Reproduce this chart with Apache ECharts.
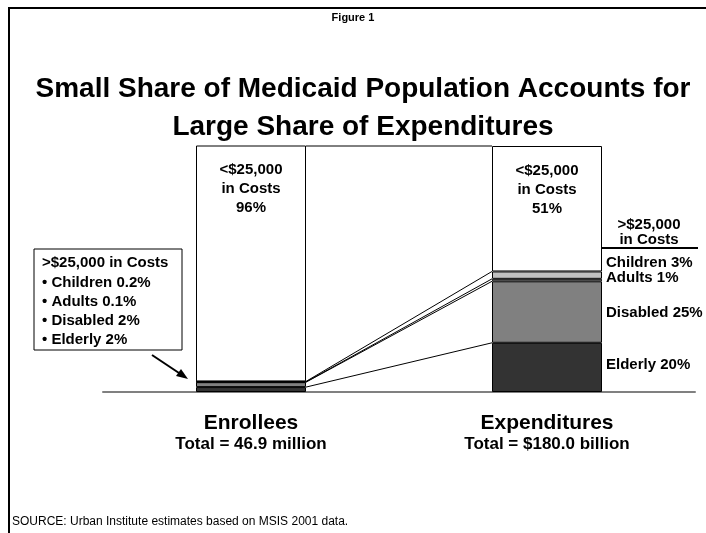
<!DOCTYPE html>
<html>
<head>
<meta charset="utf-8">
<script src="https://cdn.jsdelivr.net/npm/echarts@6/dist/echarts.min.js"></script>
<style>
html,body{margin:0;padding:0;background:#fff;}
#chart{width:706px;height:533px;}
</style>
</head>
<body>
<div id="chart"></div>
<script>
// ---- data ----
var categories = ['Enrollees', 'Expenditures'];
var categoryTotals = ['Total = 46.9 million', 'Total = $180.0 billion'];
var groups = ['Elderly', 'Disabled', 'Adults', 'Children'];   // >$25,000 in costs, bottom to top
var enrolleesHigh = [2, 2, 0.1, 0.2];
var expendituresHigh = [20, 25, 1, 3];
var lowCostName = '<$25,000 in Costs';
var lowCostShare = [96, 51];

// ---- styles ----
var FONT = '"Liberation Sans", Arial, Helvetica, sans-serif';
var groupColors = ['#333333', '#808080', '#ffffff', '#c0c0c0'];
var BAR_W = 110;

var series = [];
groups.forEach(function (g, i) {
  series.push({
    name: g,
    type: 'bar',
    stack: 'total',
    barWidth: BAR_W,
    itemStyle: { color: groupColors[i], borderColor: '#000', borderWidth: 1 },
    data: [
      { value: enrolleesHigh[i], label: { show: false } },
      { value: expendituresHigh[i] }
    ],
    label: {
      show: true,
      position: 'right',
      distance: 4,
      offset: [0, [-3, 1, -2, -12][i]],
      formatter: function (p) { return g + ' ' + p.value + '%'; },
      color: '#000',
      fontFamily: FONT,
      fontWeight: 'bold',
      fontSize: 15
    }
  });
});
series.push({
  name: lowCostName,
  type: 'bar',
  stack: 'total',
  barWidth: BAR_W,
  itemStyle: { color: '#ffffff', borderColor: '#000', borderWidth: 1 },
  data: lowCostShare,
  label: {
    show: true,
    position: 'insideTop',
    distance: 15,
    formatter: function (p) { return '<$25,000\nin Costs\n' + p.value + '%'; },
    color: '#000',
    fontFamily: FONT,
    fontWeight: 'bold',
    fontSize: 15,
    lineHeight: 19,
    align: 'center'
  }
});

// connector lines between matching segment tops
var connectorData = [];
var cumE = 0, cumX = 0;
for (var i = 0; i < groups.length; i++) {
  cumE += enrolleesHigh[i];
  cumX += expendituresHigh[i];
  connectorData.push([0, cumE, cumX]);
}
connectorData.push([0, cumE + lowCostShare[0], cumX + lowCostShare[1]]);

series.push({
  type: 'custom',
  name: 'connectors',
  coordinateSystem: 'cartesian2d',
  encode: { x: 0, y: [1, 2] },
  silent: true,
  z: 1,
  data: connectorData,
  renderItem: function (params, api) {
    var p0 = api.coord([0, Math.min(api.value(1), 100)]);
    var p1 = api.coord([1, Math.min(api.value(2), 100)]);
    return {
      type: 'line',
      shape: { x1: p0[0] + BAR_W / 2, y1: p0[1], x2: p1[0] - BAR_W / 2, y2: p1[1] },
      style: { stroke: '#000', lineWidth: 1 }
    };
  }
});

var boxLines = ['>$25,000 in Costs'];
for (var k = groups.length - 1; k >= 0; k--) {
  boxLines.push('\u2022 ' + groups[k] + ' ' + enrolleesHigh[k] + '%');
}

var option = {
  backgroundColor: '#fff',
  animation: false,
  textStyle: { fontFamily: FONT },
  title: [
    {
      text: 'Figure 1',
      left: 'center',
      top: 7,
      textStyle: { fontFamily: FONT, fontSize: 11, fontWeight: 'bold', color: '#000' }
    },
    {
      text: 'Small Share of Medicaid Population Accounts for\nLarge Share of Expenditures',
      left: 358,
      textAlign: 'center',
      top: 65,
      textStyle: { fontFamily: FONT, fontSize: 28, fontWeight: 'bold', color: '#000', lineHeight: 38 }
    },
    {
      text: 'SOURCE: Urban Institute estimates based on MSIS 2001 data.',
      left: 7,
      top: 511,
      textStyle: { fontFamily: FONT, fontSize: 12, fontWeight: 'normal', color: '#000' }
    }
  ],
  grid: { left: 103, right: 11, top: 146, bottom: 141, containLabel: false },
  xAxis: {
    type: 'category',
    data: categories,
    axisTick: { show: false },
    axisLine: { lineStyle: { color: '#808080', width: 2 } },
    axisLabel: {
      margin: 19,
      formatter: function (v, idx) { return '{a|' + v + '}\n{b|' + categoryTotals[idx] + '}'; },
      rich: {
        a: { fontFamily: FONT, fontSize: 21, fontWeight: 'bold', color: '#000', lineHeight: 24 },
        b: { fontFamily: FONT, fontSize: 17, fontWeight: 'bold', color: '#000', lineHeight: 19 }
      }
    }
  },
  yAxis: { type: 'value', min: 0, max: 100, show: false, splitLine: { show: false } },
  series: series,
  graphic: [
    { type: 'polyline', shape: { points: [[9, 540], [9, 8], [710, 8]] }, style: { stroke: '#000', lineWidth: 2, fill: null } },
    { type: 'rect', shape: { x: 34, y: 249, width: 148, height: 101 }, style: { fill: '#fff', stroke: '#000', lineWidth: 1 } },
    { type: 'text', x: 42, y: 253.5, style: { text: boxLines.join('\n'), font: 'bold 15px ' + FONT, lineHeight: 19.3, fill: '#000' } },
    { type: 'line', shape: { x1: 152, y1: 355, x2: 182, y2: 375 }, style: { stroke: '#000', lineWidth: 2 } },
    { type: 'polygon', shape: { points: [[188, 379], [176, 376], [181, 369]] }, style: { fill: '#000' } },
    { type: 'text', x: 649, y: 217, style: { text: '>$25,000\nin Costs', font: 'bold 15px ' + FONT, lineHeight: 15, fill: '#000', align: 'center' } },
    { type: 'line', shape: { x1: 602, y1: 248, x2: 698, y2: 248 }, style: { stroke: '#000', lineWidth: 2 } }
  ]
};

var chart = echarts.init(document.getElementById('chart'), null, { renderer: 'canvas' });
chart.setOption(option);
</script>
</body>
</html>
